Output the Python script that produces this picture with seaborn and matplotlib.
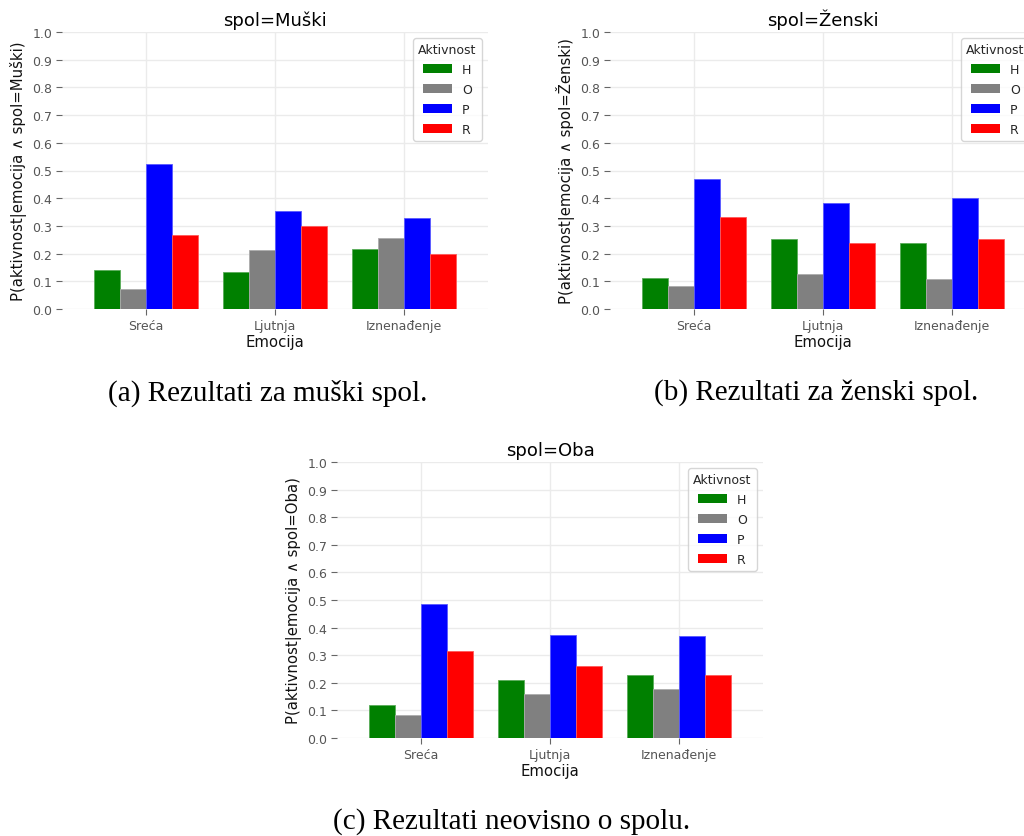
import matplotlib
matplotlib.use("Agg")
import matplotlib.pyplot as plt
import matplotlib.colors as mcolors
import seaborn as sns
import pandas as pd

emocije = ["Sreća", "Ljutnja", "Iznenađenje"]
aktivnosti = ["H", "O", "P", "R"]
boje = ["#008000", "#808080", "#0000ff", "#ff0000"]

# values per emotion: H, O, P, R
muski = {
    "Sreća": [0.140, 0.071, 0.522, 0.266],
    "Ljutnja": [0.135, 0.212, 0.354, 0.298],
    "Iznenađenje": [0.216, 0.258, 0.328, 0.199],
}
zenski = {
    "Sreća": [0.112, 0.084, 0.469, 0.333],
    "Ljutnja": [0.253, 0.127, 0.382, 0.240],
    "Iznenađenje": [0.240, 0.107, 0.401, 0.253],
}
oba = {
    "Sreća": [0.121, 0.082, 0.486, 0.314],
    "Ljutnja": [0.211, 0.159, 0.372, 0.262],
    "Iznenađenje": [0.229, 0.176, 0.369, 0.229],
}

yticks = [0.0, 0.1, 0.2, 0.3, 0.4, 0.5, 0.6, 0.7, 0.8, 0.9, 1.0]

sns.set_style("white")
plt.rcParams["font.family"] = ["DejaVu Sans"]

fig = plt.figure(figsize=(10.24, 8.37), dpi=100)

def to_df(d):
    rows = []
    for e in emocije:
        for a, v in zip(aktivnosti, d[e]):
            rows.append({"Emocija": e, "Aktivnost": a, "p": v})
    return pd.DataFrame(rows)

panels = [
    ("Muški", muski, [62/1024, 1-310/837, 426/1024, 277/837]),
    ("Ženski", zenski, [610/1024, 1-310/837, 426/1024, 277/837]),
    ("Oba", oba, [337/1024, 1-739/837, 426/1024, 276/837]),
]

for name, data, pos in panels:
    ax = fig.add_axes(pos)
    df = to_df(data)
    ax.set_axisbelow(True)
    sns.barplot(data=df, x="Emocija", y="p", hue="Aktivnost",
                order=emocije, hue_order=aktivnosti, palette=boje,
                saturation=1, ax=ax, width=0.8, errorbar=None,
                linewidth=0.6)
    for p in ax.patches:
        fc = mcolors.to_rgb(p.get_facecolor())
        light = tuple(c + (1 - c) * 0.35 for c in fc)
        p.set_edgecolor(light)
    ax.set_xlim(-0.65, 2.65)
    ax.set_ylim(0, 1.0)
    ax.set_yticks(yticks)
    ax.set_yticklabels([f"{t:.1f}" for t in yticks])
    ax.grid(True, color="#ebebeb", linewidth=1)
    for s in ax.spines.values():
        s.set_visible(False)
    ax.tick_params(axis="both", which="major", direction="out", length=4,
                   width=0.8, color="#666666", labelcolor="#555555",
                   labelsize=9, pad=3, left=True, bottom=True)
    ax.set_title(f"spol={name}", fontsize=13, color="black", pad=5)
    ax.set_xlabel("Emocija", fontsize=10.7, color="#111111", labelpad=2)
    ax.set_ylabel(f"P(aktivnost|emocija ∧ spol={name})", fontsize=10.7,
                  color="#111111", labelpad=4)
    leg = ax.legend(title="Aktivnost", loc="upper right", fontsize=9,
                    title_fontsize=9, frameon=True, fancybox=True,
                    handlelength=2.3, handleheight=0.7, labelspacing=0.55)
    leg.get_frame().set_edgecolor("#cccccc")
    leg.get_frame().set_facecolor("white")
    for h in leg.legend_handles:
        h.set_linewidth(0)

cap = dict(family="Liberation Serif", fontsize=21, ha="center", va="center",
           color="black")
fig.text(268/1024, 1-393/837, "(a) Rezultati za muški spol.", **cap)
fig.text(816/1024, 1-393/837, "(b) Rezultati za ženski spol.", **cap)
fig.text(512/1024, 1-822/837, "(c) Rezultati neovisno o spolu.", **cap)

fig.savefig("out.png", dpi=100)
